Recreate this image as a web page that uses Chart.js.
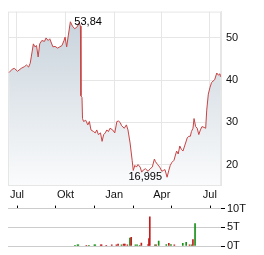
<!DOCTYPE html>
<html>
<head>
<meta charset="utf-8">
<script src="https://cdn.jsdelivr.net/npm/chart.js@4.4.0/dist/chart.umd.min.js"></script>
<style>
  html, body { margin: 0; padding: 0; background: #fff; }
  #wrap { position: relative; width: 264px; height: 255px; }
  #kurs { position: absolute; left: 0; top: 0; }
  #volumen { position: absolute; left: 0; top: 200px; }
</style>
</head>
<body>
<div id="wrap">
  <canvas id="kurs" width="264" height="200"></canvas>
  <canvas id="volumen" width="264" height="55"></canvas>
</div>
<script>
// Tage seit 1. Juli (Startmonat)
var tage = [-15,-9,-5,1,8,14,18,22,25,27,31,34,37,40,43,47,52,55,59,62,
  68,72,77,81,85,89,91,94,97,101,105,109,113,118,120,121,123,124,126,130,
  134,137,140,145,148,151,154,158,161,164,167,170,173,176,181,185,189,192,195,198,
  203,207,210,214,218,220,223,226,229,233,236,239,243,248,252,256,260,262,266,270,
  274,277,280,284,287,290,293,297,302,305,308,311,314,319,322,325,328,330,333,335,
  338,341,344,347,350,354,357,359,362,365,368,371,374,378,381,384,385];
var kurse = [41.8,42.6,42.8,42.1,42.8,43.2,43.6,43.1,44.0,45.5,48.6,47.9,48.2,45.5,48.6,49.4,49.2,50.0,49.4,49.8,
  47.9,48.0,47.6,47.9,48.2,49.4,50.2,47.9,50.5,53.84,52.8,52.2,52.5,53.6,52.8,36.3,35.9,30.9,30.2,30.5,
  29.4,30.2,28.2,27.8,27.5,28.2,27.1,27.5,25.5,27.1,27.5,28.2,27.8,28.6,28.2,27.5,30.2,30.3,30.0,29.2,
  28.6,29.4,28.2,25.1,20.9,18.6,19.8,19.4,20.0,19.4,18.2,18.7,19.0,18.4,19.0,19.4,21.3,20.7,20.0,19.4,
  18.4,18.6,18.8,16.995,18.5,19.8,20.5,21.0,23.2,22.5,24.4,23.6,23.2,25.1,26.3,26.7,26.7,27.8,28.6,30.9,
  29.0,28.6,27.1,28.2,29.0,28.8,28.6,32.9,36.7,38.2,39.4,39.8,40.1,41.7,41.2,41.5,40.8];

var volTage = [91,97,99,118,124,137,139,152,154,165,178,189,193,201,206,209,215,221,224,234,
  238,244,248,264,266,268,280,283,289,307,313,318,326,346,354,362,367,370,375];
var volumen = [0.2,0.3,0.3,0.2,0.2,0.3,0.3,0.3,0.3,0.2,0.3,0.3,0.5,0.3,0.5,0.5,0.3,2.1,2.3,0.3,
  0.3,0.2,0.8,0.35,2.0,7.8,0.3,0.3,1.3,0.4,0.7,0.4,0.3,0.7,0.95,0.3,0.3,1.7,6.0];
var volSteigend = [1,1,1,0,1,1,1,0,0,0,0,0,0,1,0,0,0,1,0,1,
  1,1,0,0,0,0,1,0,1,1,0,1,0,1,1,0,1,0,1];

var monatsTage = [0, 92, 184, 274, 365];
var monatsLabels = ['Jul', 'Okt', 'Jan', 'Apr', 'Jul'];
var kursTicks = [20, 30, 40, 50];
var volTicks = [0, 5, 10];

Chart.defaults.font.family = '"Liberation Sans", Arial, sans-serif';
Chart.defaults.font.size = 11;
Chart.defaults.color = '#111';

var gitter = '#e6e6e6';

function komma(v) { return String(v).replace('.', ','); }

var rahmen = {
  id: 'rahmen',
  beforeDatasetsDraw: function (chart) {
    var a = chart.chartArea, ctx = chart.ctx;
    ctx.save();
    ctx.strokeStyle = gitter;
    ctx.lineWidth = 1;
    ctx.strokeRect(a.left + 0.5, a.top + 0.5, a.right - a.left - 1, a.bottom - a.top - 1);
    ctx.restore();
  }
};

var extremwerte = {
  id: 'extremwerte',
  afterDatasetsDraw: function (chart) {
    var pts = chart.getDatasetMeta(0).data;
    var iMax = kurse.indexOf(Math.max.apply(null, kurse));
    var iMin = kurse.indexOf(Math.min.apply(null, kurse));
    var ctx = chart.ctx;
    ctx.save();
    ctx.font = '11px "Liberation Sans", Arial, sans-serif';
    ctx.fillStyle = '#000';
    ctx.textBaseline = 'middle';
    ctx.textAlign = 'left';
    ctx.fillText(komma(kurse[iMax]), pts[iMax].x + 4, pts[iMax].y);
    ctx.textAlign = 'right';
    ctx.fillText(komma(kurse[iMin]), pts[iMin].x - 5, pts[iMin].y);
    ctx.restore();
  }
};

var kursChart = new Chart(document.getElementById('kurs').getContext('2d'), {
  type: 'line',
  data: {
    datasets: [{
      data: tage.map(function (t, i) { return { x: t, y: kurse[i] }; }),
      borderColor: '#c84444',
      borderWidth: 1,
      pointRadius: 0,
      tension: 0,
      fill: 'start',
      backgroundColor: function (ctx) {
        var a = ctx.chart.chartArea;
        if (!a) return '#dde3e8';
        var g = ctx.chart.ctx.createLinearGradient(0, a.top, 0, a.bottom);
        g.addColorStop(0, '#c6d1da');
        g.addColorStop(1, '#fafbfc');
        return g;
      }
    }]
  },
  options: {
    responsive: false,
    animation: false,
    layout: { padding: { left: 8, top: 7 } },
    plugins: { legend: { display: false }, tooltip: { enabled: false } },
    scales: {
      x: {
        type: 'linear', min: -17, max: 386,
        afterBuildTicks: function (s) { s.ticks = monatsTage.map(function (v) { return { value: v }; }); },
        ticks: { callback: function (v, i) { return monatsLabels[i]; }, padding: 3, maxRotation: 0, autoSkip: false },
        grid: { color: gitter, drawTicks: false },
        border: { color: gitter },
        afterFit: function (s) { s.height = 15; }
      },
      y: {
        position: 'right', min: 15.15, max: 56.25,
        afterBuildTicks: function (s) { s.ticks = kursTicks.map(function (v) { return { value: v }; }); },
        ticks: { padding: 5 },
        grid: { color: gitter, drawTicks: false },
        border: { color: gitter },
        afterFit: function (s) { s.width = 43; }
      }
    }
  },
  plugins: [rahmen, extremwerte]
});

var volChart = new Chart(document.getElementById('volumen').getContext('2d'), {
  type: 'bar',
  data: {
    datasets: [{
      data: volTage.map(function (t, i) { return { x: t, y: volumen[i] }; }),
      backgroundColor: volSteigend.map(function (s) { return s ? '#179117' : '#c41d1d'; }),
      barThickness: 1
    }]
  },
  options: {
    responsive: false,
    animation: false,
    layout: { padding: { left: 8, top: 3, bottom: 9 } },
    plugins: { legend: { display: false }, tooltip: { enabled: false } },
    scales: {
      x: {
        type: 'linear', position: 'top', min: -17, max: 386,
        afterBuildTicks: function (s) { s.ticks = monatsTage.map(function (v) { return { value: v }; }); },
        ticks: { display: false },
        grid: { drawOnChartArea: false, tickLength: 3, tickColor: '#000' },
        border: { display: false },
        afterFit: function (s) { s.height = 3; }
      },
      y: {
        position: 'right', min: 0, max: 10,
        afterBuildTicks: function (s) { s.ticks = volTicks.map(function (v) { return { value: v }; }); },
        ticks: { callback: function (v) { return v + 'T'; }, padding: 2 },
        grid: { color: '#cccccc', tickLength: 4, tickColor: '#000' },
        border: { display: false },
        afterFit: function (s) { s.width = 43; }
      }
    }
  }
});
</script>
</body>
</html>
